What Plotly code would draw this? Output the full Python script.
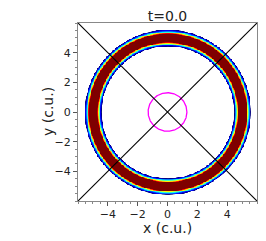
import numpy as np
import plotly.graph_objects as go

# parameters
ring_radius = 5.0
ring_sigma = 0.25
z_visible = 0.09
z_saturate = 0.53
inner_circle_radius = 1.3
axis_range = [-6.0, 6.0]
tick_vals = [-4, -2, 0, 2, 4]
tick_text = ["−4", "−2", "0", "2", "4"]
title_text = "t=0.0"
x_label = "x (c.u.)"
y_label = "y (c.u.)"

n = 241
xs = np.linspace(axis_range[0], axis_range[1], n)
ys = np.linspace(axis_range[0], axis_range[1], n)
X, Y = np.meshgrid(xs, ys)
R = np.sqrt(X**2 + Y**2)
Z = np.exp(-(R - ring_radius) ** 2 / (2 * ring_sigma**2))

# jet colormap above the visibility threshold, white below it
t0 = z_visible / z_saturate
jet_stops = [
    (0.0, "#00007f"), (0.11, "#0000ff"), (0.125, "#0000ff"), (0.34, "#00e0ff"),
    (0.36, "#00ffff"), (0.5, "#7dff7a"), (0.64, "#ffff00"), (0.66, "#ffe000"),
    (0.89, "#ff0000"), (1.0, "#7f0000"),
]
colorscale = [[0.0, "#ffffff"], [t0 * 0.8, "#ffffff"]]
colorscale += [[t0 + (1 - t0) * p, c] for p, c in jet_stops]

fig = go.Figure()
fig.add_trace(go.Heatmap(x=xs, y=ys, z=Z, colorscale=colorscale, zmin=0,
                         zmax=z_saturate, zsmooth="best", showscale=False,
                         hoverinfo="skip"))

theta = np.linspace(0, 2 * np.pi, 361)
fig.add_trace(go.Scatter(x=inner_circle_radius * np.cos(theta),
                         y=inner_circle_radius * np.sin(theta), mode="lines",
                         line=dict(color="#ff00ff", width=1.3), showlegend=False))
diag = np.array(axis_range)
fig.add_trace(go.Scatter(x=diag, y=diag, mode="lines",
                         line=dict(color="black", width=1.1), showlegend=False))
fig.add_trace(go.Scatter(x=diag, y=-diag, mode="lines",
                         line=dict(color="black", width=1.1), showlegend=False))

axis_common = dict(
    range=axis_range, tickvals=tick_vals, ticktext=tick_text, ticks="outside",
    ticklen=4, tickwidth=1, tickcolor="#555", showline=True, linecolor="#888",
    linewidth=1, mirror=True, showgrid=False, zeroline=False, automargin=False,
    tickfont=dict(family="DejaVu Sans", size=11, color="#222"),
    minor=dict(dtick=0.5, ticks="outside", ticklen=2, tickcolor="#888", showgrid=False),
)

label_font = dict(family="DejaVu Sans", size=14, color="#222")

# the page body has an 8px default margin, so the figure is 8px smaller
fig.update_layout(
    width=258, height=233,
    margin=dict(l=70, r=9, t=15, b=40),
    plot_bgcolor="white", paper_bgcolor="white",
    title=dict(text=title_text, xref="paper", x=0.5, xanchor="center",
               yref="container", y=0.965, yanchor="middle", font=label_font),
    xaxis=dict(**axis_common, ticklabelstandoff=-1),
    yaxis=dict(**axis_common),
    showlegend=False,
    annotations=[
        dict(text=x_label, xref="paper", yref="paper", x=0.5, y=0,
             xanchor="center", yanchor="middle", yshift=-27, showarrow=False,
             font=label_font),
        dict(text=y_label, xref="paper", yref="paper", x=0, y=0.5,
             xanchor="center", yanchor="middle", xshift=-30, textangle=-90,
             showarrow=False, font=label_font),
    ],
)
fig.write_html("out.html")
